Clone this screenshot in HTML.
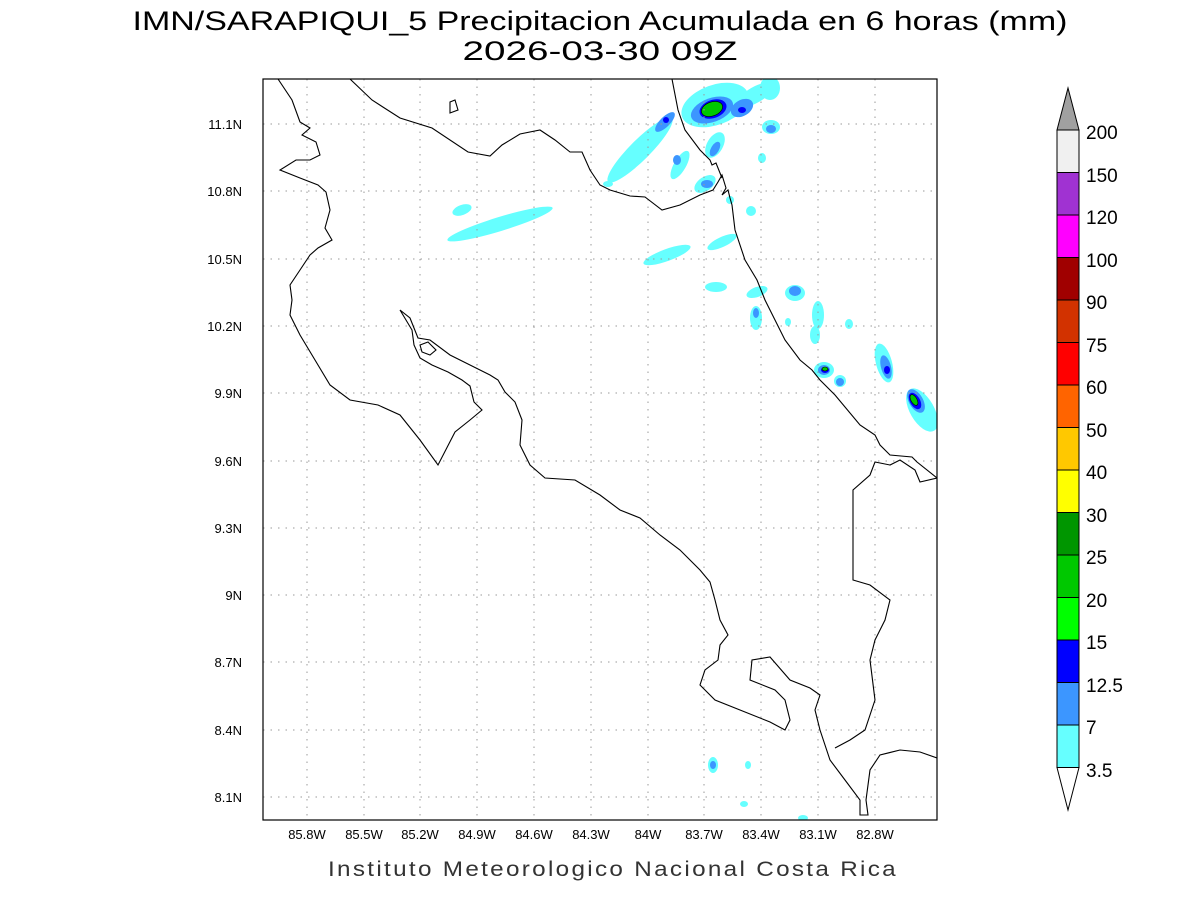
<!DOCTYPE html>
<html><head><meta charset="utf-8"><style>
body{margin:0;background:#fff;}
svg{display:block;font-family:"Liberation Sans",sans-serif;}
</style></head><body>
<svg width="1200" height="900" viewBox="0 0 1200 900">
<rect width="1200" height="900" fill="#fff"/>
<text x="600" y="30" font-size="27" text-anchor="middle" fill="#000" textLength="935" lengthAdjust="spacingAndGlyphs">IMN/SARAPIQUI_5 Precipitacion Acumulada en 6 horas (mm)</text>
<text x="600" y="60" font-size="27" text-anchor="middle" fill="#000" textLength="275" lengthAdjust="spacingAndGlyphs">2026-03-30 09Z</text>
<defs><clipPath id="c"><rect x="263" y="79" width="674" height="741"/></clipPath></defs>
<g clip-path="url(#c)">
<!-- precipitation -->
<g fill="#66ffff">
<ellipse cx="640" cy="150" rx="45" ry="10" transform="rotate(-45 640 150)"/>
<ellipse cx="715" cy="105" rx="35" ry="20" transform="rotate(-20 715 105)"/>
<ellipse cx="755" cy="95" rx="20" ry="8" transform="rotate(-30 755 95)"/>
<ellipse cx="770" cy="88" rx="10" ry="12"/>
<ellipse cx="715" cy="145" rx="8" ry="14" transform="rotate(30 715 145)"/>
<ellipse cx="680" cy="165" rx="6" ry="16" transform="rotate(30 680 165)"/>
<ellipse cx="771" cy="127" rx="9" ry="7"/>
<ellipse cx="705" cy="184" rx="12" ry="7" transform="rotate(-35 705 184)"/>
<ellipse cx="762" cy="158" rx="4" ry="5"/>
<ellipse cx="730" cy="200" rx="4" ry="4"/>
<ellipse cx="751" cy="211" rx="5" ry="5"/>
<ellipse cx="667" cy="255" rx="25" ry="6" transform="rotate(-20 667 255)"/>
<ellipse cx="722" cy="242" rx="16" ry="5" transform="rotate(-25 722 242)"/>
<ellipse cx="716" cy="287" rx="11" ry="5"/>
<ellipse cx="757" cy="292" rx="11" ry="5" transform="rotate(-20 757 292)"/>
<ellipse cx="795" cy="293" rx="10" ry="8"/>
<ellipse cx="756" cy="318" rx="6" ry="12"/>
<ellipse cx="818" cy="315" rx="6" ry="14"/>
<ellipse cx="815" cy="335" rx="5" ry="9"/>
<ellipse cx="849" cy="324" rx="4" ry="5"/>
<ellipse cx="788" cy="322" rx="3" ry="4"/>
<ellipse cx="824" cy="370" rx="10" ry="8"/>
<ellipse cx="840" cy="381" rx="6" ry="6"/>
<ellipse cx="884" cy="363" rx="8" ry="20" transform="rotate(-15 884 363)"/>
<ellipse cx="922" cy="410" rx="12" ry="24" transform="rotate(-30 922 410)"/>
<ellipse cx="500" cy="224" rx="55" ry="7" transform="rotate(-17 500 224)"/>
<ellipse cx="462" cy="210" rx="10" ry="5" transform="rotate(-20 462 210)"/>
<ellipse cx="713" cy="765" rx="5" ry="8"/>
<ellipse cx="748" cy="765" rx="3" ry="4"/>
<ellipse cx="744" cy="804" rx="4" ry="3"/>
<ellipse cx="803" cy="818" rx="5" ry="3"/>
<ellipse cx="608" cy="184" rx="5" ry="3"/>
</g>
<g fill="#3c96ff">
<ellipse cx="665" cy="122" rx="13" ry="5" transform="rotate(-45 665 122)"/>
<ellipse cx="712" cy="110" rx="22" ry="12" transform="rotate(-20 712 110)"/>
<ellipse cx="742" cy="108" rx="12" ry="8" transform="rotate(-30 742 108)"/>
<ellipse cx="715" cy="149" rx="4" ry="8" transform="rotate(30 715 149)"/>
<ellipse cx="771" cy="129" rx="5" ry="4"/>
<ellipse cx="677" cy="160" rx="4" ry="5"/>
<ellipse cx="707" cy="184" rx="6" ry="4"/>
<ellipse cx="795" cy="291" rx="6" ry="5"/>
<ellipse cx="756" cy="313" rx="3" ry="5"/>
<ellipse cx="824" cy="370" rx="6" ry="5"/>
<ellipse cx="840" cy="382" rx="4" ry="4"/>
<ellipse cx="886" cy="367" rx="5" ry="12" transform="rotate(-15 886 367)"/>
<ellipse cx="916" cy="401" rx="7" ry="13" transform="rotate(-30 916 401)"/>
<ellipse cx="713" cy="765" rx="3" ry="4"/>
</g>
<g fill="#0000ff">
<ellipse cx="713" cy="109" rx="14" ry="9" transform="rotate(-20 713 109)"/>
<ellipse cx="742" cy="110" rx="4" ry="3"/>
<ellipse cx="666" cy="120" rx="3" ry="3"/>
<ellipse cx="887" cy="370" rx="3" ry="4"/>
<ellipse cx="915" cy="401" rx="5" ry="9" transform="rotate(-30 915 401)"/>
<ellipse cx="825" cy="370" rx="4" ry="3"/>
</g>
<g fill="#00c800" stroke="#000" stroke-width="0.6">
<ellipse cx="712" cy="109" rx="11" ry="7" transform="rotate(-20 712 109)"/>
<ellipse cx="914" cy="400" rx="3" ry="6" transform="rotate(-30 914 400)"/>
<ellipse cx="825" cy="369" rx="3" ry="2"/>
</g>
<!-- grid -->
<g stroke="#999" stroke-width="1" stroke-dasharray="1.5,6">
<path d="M307 79V820M364 79V820M420 79V820M477 79V820M534 79V820M591 79V820M648 79V820M704 79V820M761 79V820M818 79V820M875 79V820"/>
<path d="M263 124H937M263 191H937M263 259H937M263 326H937M263 393H937M263 461H937M263 528H937M263 595H937M263 662H937M263 730H937M263 797H937"/>
</g>
<!-- coastlines -->
<g fill="none" stroke="#000" stroke-width="1.1">
<path d="M278 79L292 100L300 122L310 128L302 135L316 142L320 155L310 160L296 160L280 170L300 178L318 185L326 192L330 210L325 228L332 240L318 248L310 255L300 270L290 285L292 300L290 315L300 335L315 360L330 385L350 400L378 405L400 415L420 440L438 465L455 432L470 420L482 410L474 402L470 386L462 380L448 372L432 365L420 358L414 345L412 330L400 310L410 318L418 338L430 340L450 355L470 365L490 375L498 380L505 392L515 402L522 420L520 445L530 465L545 478L575 480L600 495L620 510L640 518L660 535L680 550L700 570L710 582L715 600L720 620L728 635L720 645L718 660L705 670L700 685L715 700L740 710L770 722L785 730L790 720L785 700L775 690L750 680L752 660L770 657L790 680L810 688L820 695L815 710L820 730L830 760L845 780L860 800L860 815L868 815L866 800L870 770L880 755L900 750L920 752L937 758"/>
<path d="M420 345L428 342L436 350L430 355L422 352Z"/>
<path d="M450 102L455 100L458 110L450 113Z"/>
<path d="M350 79L372 100L400 118L432 128L468 152L490 156L502 145L520 134L540 130L555 140L570 152L582 152L590 170L600 185L610 190L630 196L645 197L662 210L680 205L700 195L713 190L718 182L722 175L726 188L722 195L728 190L730 198L732 205L735 230L745 260L757 280L765 300L775 320L785 340L800 360L812 370L820 380L835 395L860 425L875 435L880 445L890 455L912 457L917 462L937 478"/>
<path d="M672 79L678 110L685 130L700 150L710 160L712 165L716 163L722 178"/>
<path d="M937 478L920 482L915 470L900 460L890 465L875 462L870 475L853 490L853 580L870 585L890 600L885 620L875 640L870 660L875 700L865 730L850 740L835 748"/>
</g>
</g>
<rect x="263" y="79" width="674" height="741" fill="none" stroke="#000" stroke-width="1.2"/>
<!-- axis labels -->
<g font-size="13" fill="#000" text-anchor="middle">
<text x="307" y="839">85.8W</text><text x="364" y="839">85.5W</text><text x="420" y="839">85.2W</text><text x="477" y="839">84.9W</text><text x="534" y="839">84.6W</text><text x="591" y="839">84.3W</text><text x="648" y="839">84W</text><text x="704" y="839">83.7W</text><text x="761" y="839">83.4W</text><text x="818" y="839">83.1W</text><text x="875" y="839">82.8W</text>
</g>
<g font-size="13" fill="#000" text-anchor="end">
<text x="242" y="129">11.1N</text><text x="242" y="196">10.8N</text><text x="242" y="264">10.5N</text><text x="242" y="331">10.2N</text><text x="242" y="398">9.9N</text><text x="242" y="466">9.6N</text><text x="242" y="533">9.3N</text><text x="242" y="600">9N</text><text x="242" y="667">8.7N</text><text x="242" y="735">8.4N</text><text x="242" y="802">8.1N</text>
</g>
<text x="613" y="876" font-size="21" fill="#333" text-anchor="middle" textLength="570" lengthAdjust="spacingAndGlyphs" letter-spacing="2">Instituto Meteorologico Nacional Costa Rica</text>
<!-- colorbar -->
<g stroke="#000" stroke-width="1">
<path d="M1057 130L1068 88L1079 130Z" fill="#a0a0a0"/>
<rect x="1057" y="130" width="22" height="42.5" fill="#f0f0f0"/>
<rect x="1057" y="172.5" width="22" height="42.5" fill="#a032d2"/>
<rect x="1057" y="215" width="22" height="42.5" fill="#ff00ff"/>
<rect x="1057" y="257.5" width="22" height="42.5" fill="#a00000"/>
<rect x="1057" y="300" width="22" height="42.5" fill="#d23200"/>
<rect x="1057" y="342.5" width="22" height="42.5" fill="#ff0000"/>
<rect x="1057" y="385" width="22" height="42.5" fill="#ff6400"/>
<rect x="1057" y="427.5" width="22" height="42.5" fill="#ffc800"/>
<rect x="1057" y="470" width="22" height="42.5" fill="#ffff00"/>
<rect x="1057" y="512.5" width="22" height="42.5" fill="#009600"/>
<rect x="1057" y="555" width="22" height="42.5" fill="#00c800"/>
<rect x="1057" y="597.5" width="22" height="42.5" fill="#00ff00"/>
<rect x="1057" y="640" width="22" height="42.5" fill="#0000ff"/>
<rect x="1057" y="682.5" width="22" height="42.5" fill="#3c96ff"/>
<rect x="1057" y="725" width="22" height="42.5" fill="#66ffff"/>
<path d="M1057 767.5L1068 810L1079 767.5Z" fill="#fff"/>
</g>
<g font-size="19" fill="#000">
<text x="1086" y="139">200</text><text x="1086" y="182">150</text><text x="1086" y="224">120</text><text x="1086" y="267">100</text><text x="1086" y="309">90</text><text x="1086" y="352">75</text><text x="1086" y="394">60</text><text x="1086" y="437">50</text><text x="1086" y="479">40</text><text x="1086" y="522">30</text><text x="1086" y="564">25</text><text x="1086" y="607">20</text><text x="1086" y="649">15</text><text x="1086" y="692">12.5</text><text x="1086" y="734">7</text><text x="1086" y="777">3.5</text>
</g>
</svg>
</body></html>
